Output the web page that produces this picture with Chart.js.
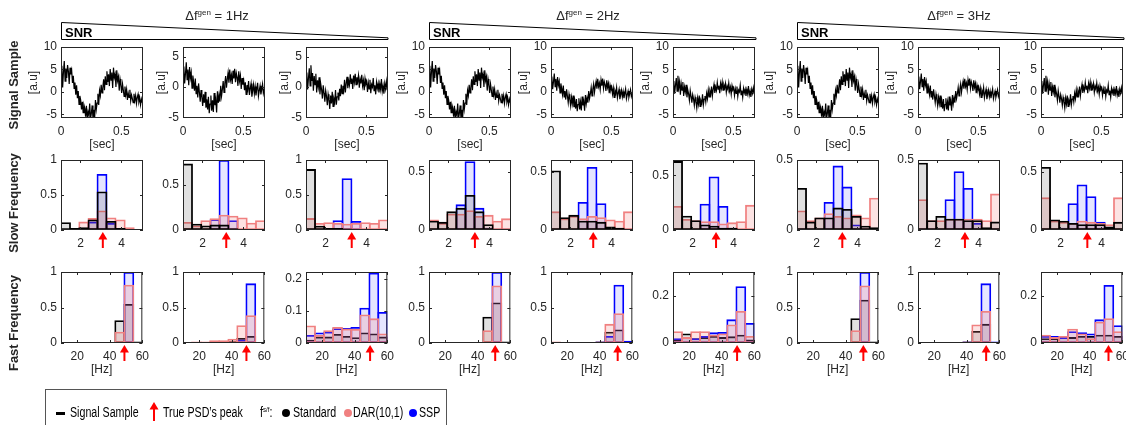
<!DOCTYPE html>
<html>
<head>
<meta charset="utf-8">
<script src="https://cdn.jsdelivr.net/npm/chart.js@4.4.0/dist/chart.umd.min.js"></script>
<style>
  body { margin: 0; width: 1126px; height: 425px; background: #fff; position: relative; overflow: hidden;
         font-family: "Liberation Sans", Arial, sans-serif; color: #262626; }
  canvas { position: absolute; }
  .hdr { position: absolute; top: 8px; font-size: 13px; white-space: nowrap; transform: translateX(-50%); }
  .hdr sup { font-size: 8px; vertical-align: 5px; }
  .snr { position: absolute; top: 25px; font-size: 13px; font-weight: bold; color: #000; }
  .rowlab { position: absolute; left: 13px; font-size: 13px; font-weight: bold; white-space: nowrap;
            transform: translate(-50%, -50%) rotate(-90deg); }
  #legend { position: absolute; left: 45px; top: 389px; width: 400px; height: 50px; border: 1px solid #555; }
  .lg { position: absolute; top: 404px; font-size: 14px; white-space: nowrap; color: #000;
        transform: scaleX(0.76); transform-origin: left center; }
  .lg sup { font-size: 8px; vertical-align: 5px; }
  .dot { position: absolute; top: 409px; width: 8px; height: 8px; border-radius: 50%; }
</style>
</head>
<body>
<div id="legend"></div>
<script>
// ---- data ----
const groups = ["1Hz", "2Hz", "3Hz"];

// signal samples, one value every sigStep seconds
const sigStep = 0.0068;
const sigHigh = [3.2,5.8,1.0,4.5,6.9,2.4,5.2,3.1,6.0,4.6, 1.8,5.4,3.9,4.8,2.0,3.6,0.8,2.1,-0.6,1.5,
  -1.4,0.2,-2.8,-0.9,-1.8,-3.9,-2.2,-4.6,-2.9,-3.6, -5.5,-3.1,-6.0,-4.4,-5.2,-2.6,-6.0,-4.8,-3.0,-5.9,
  -4.0,-6.0,-1.8,-3.9,-2.5,-0.4,-2.9,0.3,-0.8,1.6, -0.2,0.9,2.8,0.4,3.5,1.7,4.6,2.2,3.9,1.3,
  5.1,2.6,4.3,0.9,5.4,3.2,4.0,1.1,4.8,2.5, 3.4,0.3,2.9,1.6,-0.2,1.8,0.4,-1.0,1.2,-0.6,
  0.6,-1.8,-0.3,-1.2,0.5,-2.0,-0.7,-1.5,-2.4,-0.4, -1.9,-0.8,-2.6,-1.2,-0.5,-2.2,-1.4,-2.9,-1.6,-2.4];
const sigMid = [1.8,3.4,0.6,2.2,4.1,1.2,2.9,0.3,3.3,1.5, 2.4,-0.2,1.9,0.8,-0.6,1.4,-1.1,0.2,-1.7,0.6,
  -0.9,-2.4,-0.5,-1.6,-3.1,-1.2,-2.6,-0.8,-3.4,-2.0, -3.7,-1.6,-4.3,-2.8,-1.4,-3.9,-2.2,-4.1,-1.0,-3.0,
  -2.1,-4.2,-0.7,-2.6,-1.3,-2.4,0.2,-1.5,-0.4,1.0, -0.9,0.6,1.8,-0.1,1.3,2.4,0.7,2.9,1.2,2.0,
  0.5,2.7,1.4,3.0,0.8,2.3,1.6,0.2,2.6,1.0, 1.9,-0.3,1.5,0.4,1.1,-0.5,0.8,-1.2,0.3,-0.4,
  1.0,-1.3,-0.2,0.6,-1.6,-0.6,0.4,-1.1,0.1,-1.4, -0.3,0.7,-1.5,-0.6,0.2,-1.2,-0.4,0.5,-1.0,-0.3];
const sigLow = [0.6,2.4,-0.4,1.5,3.1,0.2,3.6,1.0,2.3,-0.6, 1.8,0.4,2.2,-0.9,1.1,0.0,1.6,-1.2,0.5,-0.4,
  -1.9,0.3,-1.0,-2.4,-0.6,-1.5,-3.0,-1.2,-2.1,-3.6, -1.4,-2.7,-0.8,-3.2,-1.9,-2.5,-0.5,-2.9,-1.6,-0.9,
  -2.2,-0.3,-1.5,0.4,-1.1,0.2,-0.6,1.2,-0.9,0.6, 1.7,-0.2,1.0,0.3,2.1,0.6,1.4,-0.3,1.9,0.8,
  2.2,0.4,1.6,0.9,1.9,-0.1,1.3,0.6,2.0,0.2, 1.1,-0.5,1.4,0.5,0.9,-0.8,0.7,-0.3,1.2,-1.0,
  0.4,0.0,1.5,-0.6,0.3,-1.2,0.8,-0.2,0.6,-0.9, 0.5,-0.4,1.3,-0.7,0.2,-1.1,0.6,-0.3,0.9,-0.5];
const sigXTicks = [0, 0.5];
const sigYMin = [-5.8, -5.1, -5.1, -5.8, -5.8, -5.8, -5.8, -5.8, -5.8];
const sigYMax = [10, 6.6, 6.6, 10, 10, 10, 10, 10, 10];
const sigYTicks = [[-5,0,5,10], [-5,0,5], [-5,0,5], [-5,0,5,10], [-5,0,5,10], [-5,0,5,10], [-5,0,5,10], [-5,0,5,10], [-5,0,5,10]];

// slow frequency histograms (9 bins, Hz)
const slowBins = [1.27, 1.72, 2.16, 2.61, 3.05, 3.49, 3.94, 4.38, 4.83];
const slowXTicks = [2, 4];
const slowStandard = [
  [0.11,0.03,0.04,0.15,0.55,0.13,0.03,0.01,0.01],
  [0.74,0.07,0.05,0.06,0.06,0.02,0.01,0.005,0.005],
  [0.87,0.06,0.03,0.03,0.02,0.01,0.005,0.005,0.005],
  [0.08,0.07,0.16,0.19,0.30,0.16,0.05,0.01,0.01],
  [0.51,0.11,0.13,0.08,0.08,0.07,0.03,0.02,0.01],
  [0.63,0.13,0.09,0.05,0.04,0.02,0.02,0.01,0.01],
  [0.30,0.06,0.09,0.09,0.16,0.15,0.10,0.03,0.02],
  [0.48,0.07,0.10,0.08,0.08,0.07,0.07,0.02,0.06],
  [0.54,0.09,0.08,0.06,0.05,0.05,0.05,0.03,0.07]];
const slowDAR = [
  [0.01,0.02,0.12,0.17,0.28,0.18,0.15,0.04,0.01],
  [0.09,0.05,0.11,0.13,0.17,0.16,0.14,0.08,0.11],
  [0.17,0.10,0.11,0.10,0.09,0.10,0.11,0.10,0.15],
  [0.09,0.06,0.14,0.14,0.17,0.12,0.13,0.08,0.10],
  [0.16,0.10,0.12,0.10,0.12,0.11,0.09,0.08,0.16],
  [0.22,0.10,0.09,0.08,0.08,0.06,0.07,0.08,0.23],
  [0.14,0.07,0.09,0.12,0.10,0.09,0.11,0.09,0.23],
  [0.22,0.07,0.07,0.08,0.08,0.08,0.08,0.07,0.26],
  [0.28,0.08,0.07,0.06,0.08,0.07,0.06,0.05,0.28]];
const slowSSP = [
  [0.01,0.01,0.01,0.12,0.80,0.10,0.01,0.01,0.01],
  [0.01,0.01,0.01,0.12,0.78,0.11,0.01,0.01,0.01],
  [0.01,0.01,0.01,0.14,0.74,0.13,0.01,0.01,0.01],
  [0.01,0.01,0.01,0.22,0.59,0.19,0.02,0.01,0.01],
  [0.01,0.01,0.01,0.24,0.54,0.23,0.02,0.01,0.01],
  [0.01,0.01,0.01,0.24,0.49,0.22,0.02,0.01,0.01],
  [0.01,0.01,0.01,0.20,0.46,0.31,0.04,0.01,0.01],
  [0.01,0.01,0.01,0.22,0.42,0.30,0.05,0.01,0.01],
  [0.01,0.01,0.02,0.23,0.39,0.29,0.07,0.01,0.01]];
const slowYMax = [1, 0.78, 1, 0.6, 0.6, 0.64, 0.5, 0.5, 0.6];
const slowYTicks = [[0,0.5,1], [0,0.5], [0,0.5,1], [0,0.5], [0,0.5], [0,0.5], [0,0.5], [0,0.5], [0,0.5]];
const slowPeak = [3.09, 3.16, 3.28, 3.29, 3.11, 3.15, 3.26, 3.34, 3.31];

// fast frequency histograms (9 bins, Hz)
const fastBins = [12.8, 18.3, 23.9, 29.4, 35.0, 40.6, 46.1, 51.7, 57.2];
const fastXTicks = [20, 40, 60];
const fastStandard = [
  [0.005,0.005,0.005,0.005,0.005,0.01,0.32,0.55,0.02],
  [0.005,0.01,0.01,0.01,0.02,0.03,0.07,0.10,0.01],
  [0.01,0.02,0.02,0.028,0.022,0.018,0.033,0.03,0.02],
  [0.005,0.005,0.005,0.005,0.005,0.01,0.37,0.57,0.02],
  [0.005,0.005,0.005,0.005,0.005,0.02,0.16,0.19,0.01],
  [0.015,0.04,0.02,0.025,0.03,0.025,0.028,0.035,0.015],
  [0.005,0.005,0.005,0.005,0.005,0.01,0.35,0.61,0.02],
  [0.005,0.005,0.005,0.005,0.005,0.02,0.17,0.27,0.01],
  [0.02,0.02,0.025,0.025,0.03,0.03,0.035,0.035,0.03]];
const fastDAR = [
  [0.01,0.01,0.01,0.01,0.01,0.01,0.16,0.82,0.005],
  [0.01,0.02,0.02,0.04,0.04,0.06,0.25,0.39,0.01],
  [0.055,0.025,0.04,0.05,0.045,0.044,0.089,0.077,0.03],
  [0.005,0.005,0.005,0.005,0.005,0.005,0.18,0.81,0.005],
  [0.02,0.01,0.01,0.01,0.01,0.02,0.27,0.42,0.01],
  [0.05,0.025,0.05,0.05,0.035,0.04,0.078,0.135,0.03],
  [0.005,0.005,0.005,0.005,0.005,0.005,0.18,0.81,0.005],
  [0.01,0.01,0.01,0.01,0.01,0.02,0.26,0.45,0.01],
  [0.035,0.025,0.03,0.06,0.04,0.02,0.09,0.105,0.05]];
const fastSSP = [
  [0.005,0.005,0.005,0.005,0.005,0.005,0.01,1.0,0.005],
  [0.01,0.005,0.005,0.005,0.005,0.01,0.05,0.84,0.01],
  [0.025,0.033,0.035,0.046,0.047,0.05,0.11,0.22,0.097],
  [0.005,0.005,0.005,0.005,0.005,0.005,0.01,1.0,0.005],
  [0.01,0.005,0.005,0.005,0.005,0.02,0.10,0.82,0.03],
  [0.02,0.025,0.02,0.03,0.045,0.047,0.10,0.24,0.085],
  [0.005,0.005,0.005,0.005,0.005,0.005,0.01,1.0,0.005],
  [0.005,0.005,0.005,0.005,0.005,0.02,0.02,0.84,0.02],
  [0.03,0.03,0.025,0.05,0.045,0.04,0.10,0.245,0.075]];
const fastYMax = [1, 1, 0.222, 1, 1, 0.3, 1, 1, 0.3];
const fastYTicks = [[0,0.5,1], [0,0.5,1], [0,0.1,0.2], [0,0.5,1], [0,0.5,1], [0,0.2], [0,0.5,1], [0,0.5,1], [0,0.2]];
const fastPeak = [49, 49, 49.4, 50.7, 51, 49.4, 50.8, 51.9, 51.5];

// ---- layout ----
const colLeft = [61, 183, 306, 429, 551, 673, 797, 918, 1041];
const BOX_W = 82, Y_W = 40, PAD_T = 14, PAD_R = 12;
const rows = [
  { top: 47, h: 71, hx: 37 },
  { top: 160, h: 70, hx: 24 },
  { top: 272, h: 71, hx: 37 }
];
const BLUE = "#0000ff", PINK = "#f08080", BLACK = "#000000";

Chart.defaults.font.family = '"Liberation Sans", Arial, sans-serif';
Chart.defaults.font.size = 12;
Chart.defaults.color = "#262626";
Chart.defaults.animation = false;

// MATLAB style box with inward ticks, plus the red "true peak" arrow under the axis
const frame = {
  id: "frame",
  afterDraw(chart, args, opts) {
    const { ctx, chartArea: a, scales: { x, y } } = chart;
    ctx.save();
    ctx.strokeStyle = "#262626";
    ctx.lineWidth = 1;
    ctx.strokeRect(a.left + 0.5, a.top + 0.5, a.width - 1, a.height - 1);
    ctx.beginPath();
    x.ticks.forEach(t => {
      const px = Math.round(x.getPixelForValue(t.value)) + 0.5;
      ctx.moveTo(px, a.bottom); ctx.lineTo(px, a.bottom - 3);
      ctx.moveTo(px, a.top); ctx.lineTo(px, a.top + 3);
    });
    y.ticks.forEach(t => {
      const py = Math.round(y.getPixelForValue(t.value)) + 0.5;
      ctx.moveTo(a.left, py); ctx.lineTo(a.left + 3, py);
      ctx.moveTo(a.right, py); ctx.lineTo(a.right - 3, py);
    });
    ctx.stroke();
    if (opts.peak != null) {
      const px = x.getPixelForValue(opts.peak), b = a.bottom;
      ctx.fillStyle = ctx.strokeStyle = "#ff0000";
      ctx.beginPath();
      ctx.moveTo(px, b + 2); ctx.lineTo(px - 4.5, b + 9.5); ctx.lineTo(px + 4.5, b + 9.5);
      ctx.closePath(); ctx.fill();
      ctx.lineWidth = 2;
      ctx.beginPath(); ctx.moveTo(px, b + 9); ctx.lineTo(px, b + 18); ctx.stroke();
    }
    ctx.restore();
  }
};

function scales(r, xMin, xMax, xTicks, yMin, yMax, yTicks, xTitle, yTitle, yTitlePad) {
  const hx = rows[r].hx;
  return {
    x: {
      type: "linear", min: xMin, max: xMax, offset: false,
      grid: { display: false, drawTicks: false }, border: { display: false },
      afterBuildTicks: s => { s.ticks = xTicks.map(v => ({ value: v })); },
      afterFit: s => { s.height = hx; },
      ticks: { padding: 6, maxRotation: 0, autoSkip: false, callback: v => String(v) },
      title: xTitle ? { display: true, text: xTitle, padding: { top: 0, bottom: 3 } } : { display: false }
    },
    y: {
      min: yMin, max: yMax,
      grid: { display: false, drawTicks: false }, border: { display: false },
      afterBuildTicks: s => { s.ticks = yTicks.map(v => ({ value: v })); },
      afterFit: s => { s.width = Y_W; },
      ticks: { padding: 4, autoSkip: false, callback: v => String(v) },
      title: yTitle ? { display: true, text: yTitle, padding: { top: yTitlePad, bottom: 0 } } : { display: false }
    }
  };
}

function addPanel(col, r, config) {
  const row = rows[r];
  const cv = document.createElement("canvas");
  cv.width = Y_W + BOX_W + PAD_R;
  cv.height = PAD_T + row.h + row.hx;
  cv.style.left = (colLeft[col] - Y_W) + "px";
  cv.style.top = (row.top - PAD_T) + "px";
  document.body.appendChild(cv);
  config.options.responsive = false;
  config.options.layout = { padding: { left: 0, right: PAD_R, top: PAD_T, bottom: 0 } };
  config.plugins = [frame];
  const chart = new Chart(cv, config);
  // put the plot box exactly where the figure has it
  cv.style.left = (colLeft[col] - chart.chartArea.left) + "px";
  cv.style.top = (row.top - chart.chartArea.top) + "px";
  return chart;
}

function bars(label, values, bins, color, fill) {
  return {
    label, data: bins.map((x, i) => ({ x, y: values[i] })),
    backgroundColor: fill, borderColor: color, borderWidth: 1.8, borderSkipped: false,
    grouped: false, barPercentage: 1.2, categoryPercentage: 1
  };
}

const signals = [sigHigh, sigMid, sigLow];
const noPlugins = { legend: { display: false }, tooltip: { enabled: false } };

for (let col = 0; col < 9; col++) {
  const sig = signals[col % 3];
  // row 1: signal sample
  addPanel(col, 0, {
    type: "line",
    data: { datasets: [{ data: sig.map((v, i) => ({ x: i * sigStep, y: v })),
      borderColor: BLACK, borderWidth: 1.2, pointRadius: 0, tension: 0 }] },
    options: {
      plugins: { ...noPlugins, frame: { peak: null } },
      scales: scales(0, 0, 0.68, sigXTicks, sigYMin[col], sigYMax[col], sigYTicks[col], "[sec]", "[a.u]",
        sigYMax[col] >= 10 ? 5.8 : 11.8)
    }
  });
  // row 2: slow frequency (standard in front)
  addPanel(col, 1, {
    type: "bar",
    data: { datasets: [
      bars("Standard", slowStandard[col], slowBins, BLACK, "rgba(0,0,0,0.12)"),
      bars("DAR(10,1)", slowDAR[col], slowBins, PINK, "rgba(240,128,128,0.22)"),
      bars("SSP", slowSSP[col], slowBins, BLUE, "rgba(0,0,255,0.1)")
    ] },
    options: {
      plugins: { ...noPlugins, frame: { peak: slowPeak[col] } },
      scales: scales(1, 1.05, 5.05, slowXTicks, 0, slowYMax[col], slowYTicks[col], null, null, 0)
    }
  });
  // row 3: fast frequency (DAR in front)
  addPanel(col, 2, {
    type: "bar",
    data: { datasets: [
      bars("DAR(10,1)", fastDAR[col], fastBins, PINK, "rgba(240,128,128,0.22)"),
      bars("SSP", fastSSP[col], fastBins, BLUE, "rgba(0,0,255,0.1)"),
      bars("Standard", fastStandard[col], fastBins, BLACK, "rgba(0,0,0,0.12)")
    ] },
    options: {
      plugins: { ...noPlugins, frame: { peak: fastPeak[col] } },
      scales: scales(2, 10, 60, fastXTicks, 0, fastYMax[col], fastYTicks[col], "[Hz]", null, 0)
    }
  });
}

// ---- headers, SNR wedges, row labels ----
const groupLeft = [61, 429, 797], groupRight = [388, 756, 1124], groupMid = [217, 588, 959];
let svg = '<svg width="1126" height="45" style="position:absolute;left:0;top:0">';
groups.forEach((g, i) => {
  const L = groupLeft[i] + 0.5, R = groupRight[i];
  svg += `<polygon points="${L},22.5 ${R},37.8 ${R},39.5 ${L},39.5" fill="#fff" stroke="#000" stroke-width="1"/>`;
});
svg += "</svg>";
document.body.insertAdjacentHTML("beforeend", svg);
groups.forEach((g, i) => {
  document.body.insertAdjacentHTML("beforeend",
    `<div class="hdr" style="left:${groupMid[i]}px">&Delta;f<sup>gen</sup> = ${g}</div>` +
    `<div class="snr" style="left:${groupLeft[i] + 4}px">SNR</div>`);
});
[["Signal Sample", 85], ["Slow Frequency", 203], ["Fast Frequency", 323]].forEach(([t, y]) => {
  document.body.insertAdjacentHTML("beforeend", `<div class="rowlab" style="top:${y}px">${t}</div>`);
});

// ---- legend ----
document.body.insertAdjacentHTML("beforeend", `
  <div style="position:absolute;left:56px;top:411.5px;width:9px;height:3px;background:#000"></div>
  <span class="lg" style="left:70px">Signal Sample</span>
  <svg width="12" height="22" style="position:absolute;left:148px;top:400px">
    <polygon points="6,2 1.5,9.5 10.5,9.5" fill="#ff0000"/>
    <line x1="6" y1="9" x2="6" y2="21" stroke="#ff0000" stroke-width="2"/>
  </svg>
  <span class="lg" style="left:163px">True PSD’s peak</span>
  <span class="lg" style="left:260px">f<sup>s/f</sup>:</span>
  <div class="dot" style="left:282px;background:#000"></div>
  <span class="lg" style="left:293px">Standard</span>
  <div class="dot" style="left:344px;background:#f08080"></div>
  <span class="lg" style="left:353px">DAR(10,1)</span>
  <div class="dot" style="left:409px;background:#0000ff"></div>
  <span class="lg" style="left:419px">SSP</span>
`);
</script>
</body>
</html>
